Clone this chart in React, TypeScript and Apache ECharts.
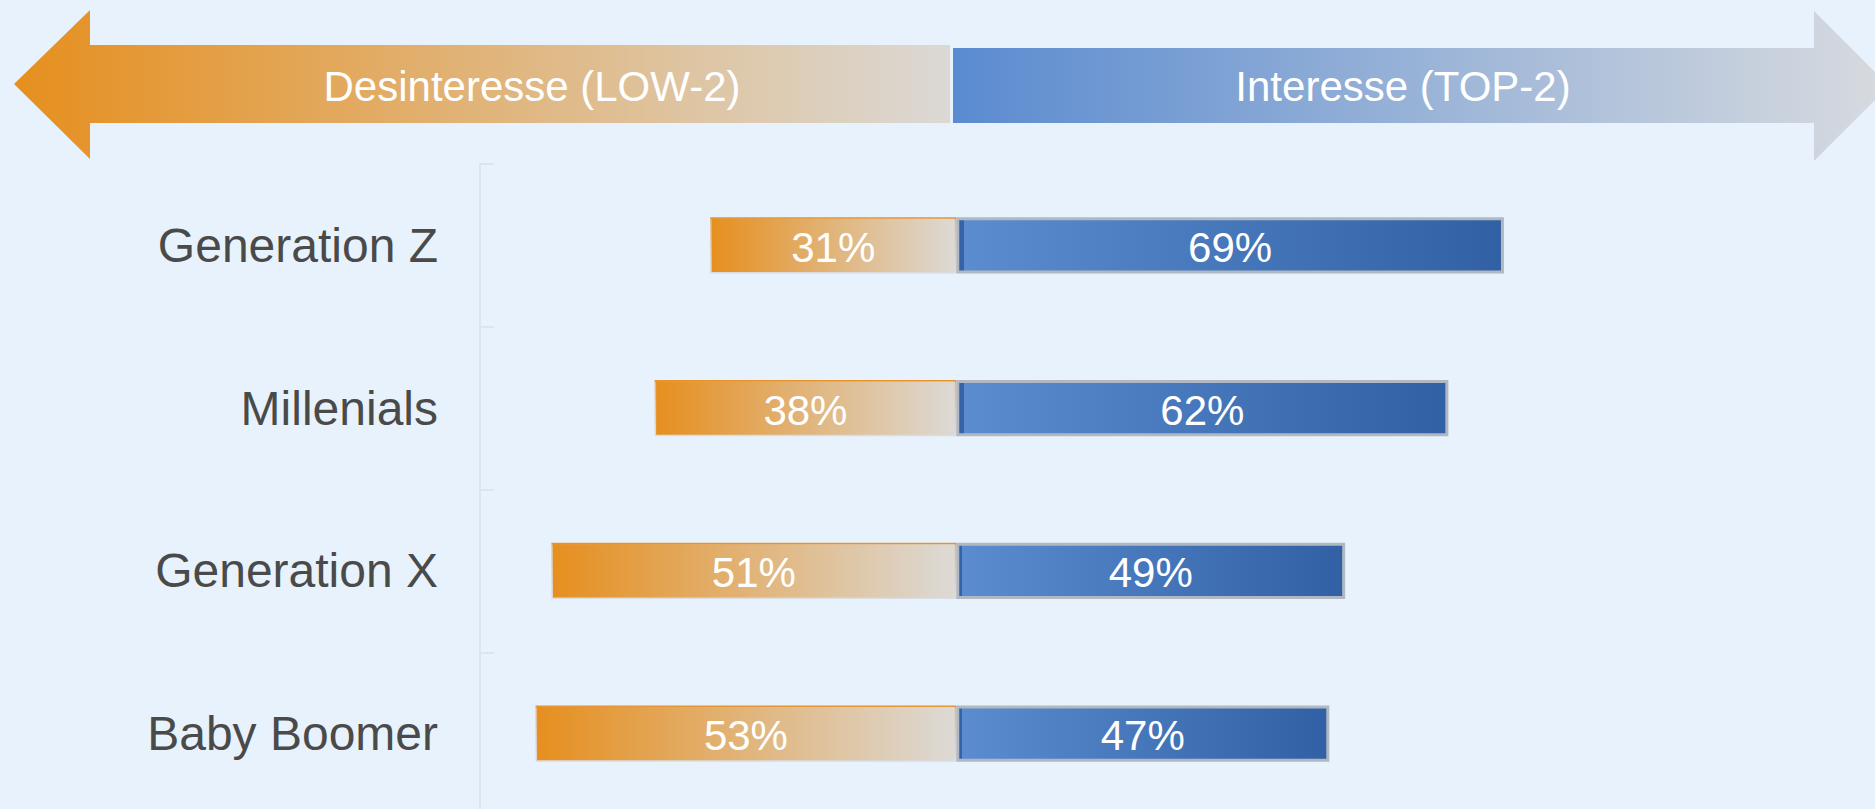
import React, { useEffect, useRef } from "react";
import * as echarts from "echarts";

const categories = ["Generation Z", "Millenials", "Generation X", "Baby Boomer"];
const lowValues = [31, 38, 51, 53];
const topValues = [69, 62, 49, 47];
const lowTitle = "Desinteresse (LOW-2)";
const topTitle = "Interesse (TOP-2)";

export default function App() {
  const ref = useRef<HTMLDivElement>(null);
  useEffect(() => {
    if (!ref.current) return;
    const chart = echarts.init(ref.current, null, { renderer: "svg" });
    const LG = echarts.graphic.LinearGradient;
    const font = "'Liberation Sans', Arial, sans-serif";
    chart.setOption({
      animation: false,
      backgroundColor: "#E8F2FC",
      grid: {
        left: 480,
        width: 1270,
        top: 164,
        height: 651,
        containLabel: false,
        outerBoundsMode: "none",
      },
      xAxis: {
        type: "value",
        min: -60,
        max: 100,
        show: false,
        splitLine: { show: false },
      },
      yAxis: {
        type: "category",
        data: categories,
        inverse: true,
        axisLine: { show: true, onZero: false, lineStyle: { color: "#DFE4EA", width: 2 } },
        axisTick: { show: true, inside: true, length: 14, lineStyle: { color: "#DFE4EA", width: 2 } },
        axisLabel: { color: "#4A4A4A", fontSize: 48, fontFamily: font, margin: 42 },
        splitLine: { show: false },
      },
      series: [
        {
          type: "bar",
          name: lowTitle,
          data: lowValues.map((v) => -v),
          barWidth: "34.5%",
          barGap: "-100%",
          itemStyle: {
            color: new LG(0, 0, 1, 0, [
              { offset: 0, color: "#E68F1F" },
              { offset: 1, color: "#DCDAD6" },
            ]),
            borderColor: new LG(0, 0, 0, 1, [
              { offset: 0, color: "#E8922A" },
              { offset: 0.04, color: "#E3B884" },
              { offset: 1, color: "#D9DCE0" },
            ]),
            borderWidth: 1.5,
          },
          label: {
            show: true,
            position: "inside",
            offset: [0, 2],
            color: "#FFFFFF",
            fontSize: 42,
            fontFamily: font,
            formatter: (p: any) => Math.abs(p.value) + "%",
          },
        },
        {
          type: "bar",
          name: topTitle,
          data: topValues,
          barWidth: "34.5%",
          barGap: "-100%",
          itemStyle: {
            color: new LG(0, 0, 1, 0, [
              { offset: 0, color: "#3663A8" },
              { offset: 0.012, color: "#3663A8" },
              { offset: 0.0121, color: "#5B8CD0" },
              { offset: 1, color: "#3161A4" },
            ]),
            borderColor: "#B2B8C1",
            borderWidth: 3,
          },
          label: {
            show: true,
            position: "inside",
            offset: [0, 2],
            color: "#FFFFFF",
            fontSize: 42,
            fontFamily: font,
            formatter: (p: any) => p.value + "%",
          },
        },
      ],
      graphic: [
        {
          type: "polygon",
          silent: true,
          shape: {
            points: [
              [14, 84], [90, 10], [90, 45], [950, 45], [950, 123], [90, 123], [90, 159],
            ],
          },
          style: {
            fill: new LG(0, 0, 1, 0, [
              { offset: 0, color: "#E68F1E" },
              { offset: 1, color: "#DBD9D5" },
            ]),
          },
        },
        {
          type: "polygon",
          silent: true,
          shape: {
            points: [
              [953, 48], [1814, 48], [1814, 11], [1889, 86], [1814, 161], [1814, 123], [953, 123],
            ],
          },
          style: {
            fill: new LG(0, 0, 1, 0, [
              { offset: 0, color: "#5A8BD0" },
              { offset: 1, color: "#D8DBDF" },
            ]),
          },
        },
        {
          type: "text",
          silent: true,
          x: 532,
          y: 86,
          style: {
            text: lowTitle,
            fill: "#FFFFFF",
            fontSize: 42,
            fontFamily: font,
            align: "center",
            verticalAlign: "middle",
          },
        },
        {
          type: "text",
          silent: true,
          x: 1403,
          y: 86,
          style: {
            text: topTitle,
            fill: "#FFFFFF",
            fontSize: 42,
            fontFamily: font,
            align: "center",
            verticalAlign: "middle",
          },
        },
      ],
    });
    return () => chart.dispose();
  }, []);
  return (
    <div
      ref={ref}
      style={{ position: "fixed", left: 0, top: 0, width: 1875, height: 809 }}
    />
  );
}
